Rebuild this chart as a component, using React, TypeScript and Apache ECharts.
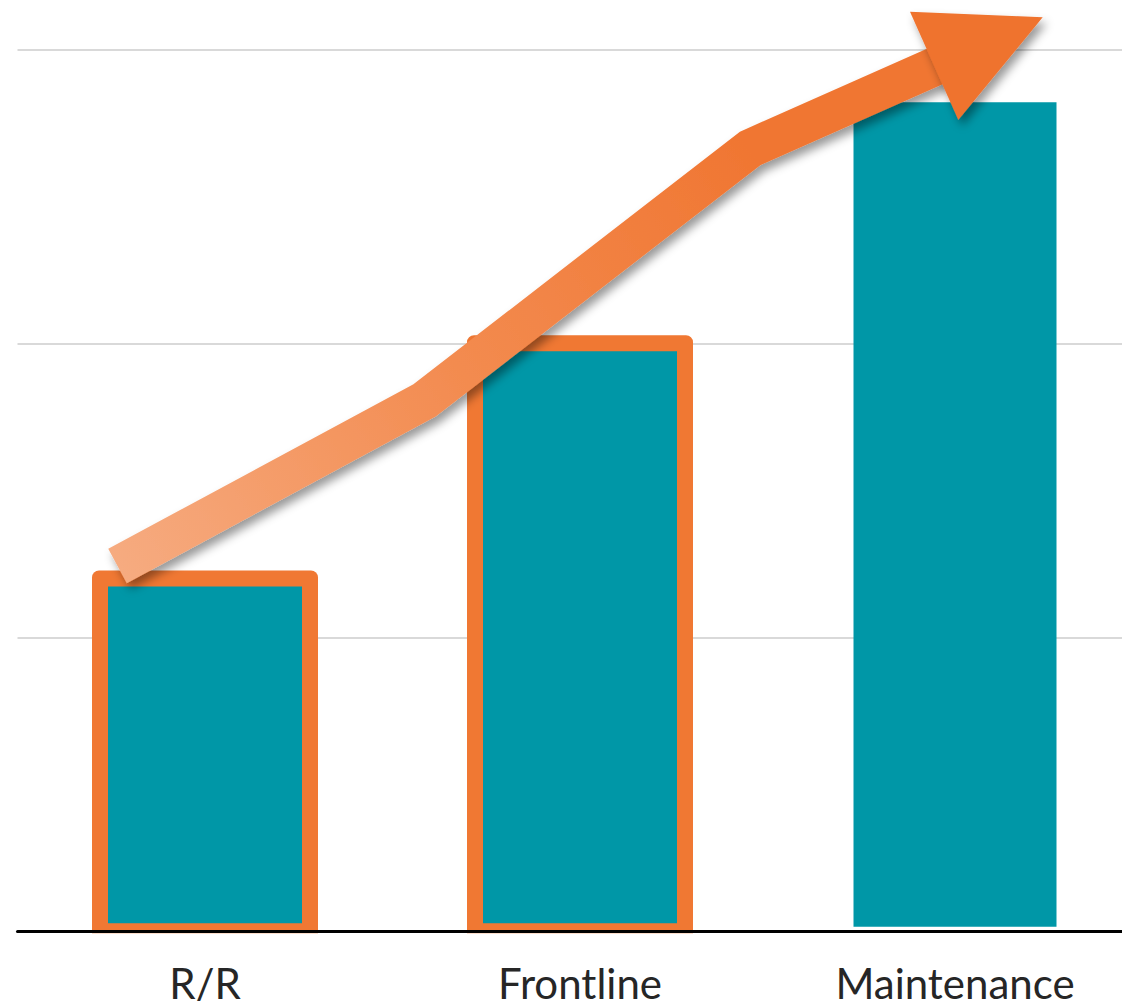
import React, { useEffect, useRef } from "react";
import * as echarts from "echarts";

// ---- data ----
const categories = ["R/R", "Frontline", "Maintenance"];
const values = [1.2, 2, 2.82];
const outlined = [1, 1, 0];
const yMin = 0;
const yMax = 3;
const yInterval = 1;
// trend arrow, in data units (x = category index, y = value)
const arrowShaftX = [-0.2333, 0.5867, 1.4533, 1.9852];
const arrowShaftY = [1.2425, 1.807, 2.6626, 2.9636];
const arrowHeadX = [1.88, 2.2339, 2.0088];
const arrowHeadY = [3.128, 3.1088, 2.7595];

// ---- styles ----
const TEAL = "#0097A7";
const ORANGE = "#F07833";
const OUTLINED_BAR_W = 210;
const PLAIN_BAR_W = 203;
const BORDER_W = 16;

export default function App() {
  const ref = useRef<HTMLDivElement>(null);
  useEffect(() => {
    if (!ref.current) return;
    const chart = echarts.init(ref.current, undefined, { renderer: "svg" });
    chart.setOption({
      animation: false,
      backgroundColor: "#ffffff",
      grid: {
        left: 17.5,
        top: 49.3,
        width: 1125,
        height: 882,
        containLabel: false,
        outerBoundsMode: "none",
      },
      xAxis: [
        {
          type: "category",
          data: categories,
          z: 10,
          axisLine: { lineStyle: { color: "#000000", width: 3 } },
          axisTick: { show: false },
          splitLine: { show: false },
          axisLabel: {
            interval: 0,
            fontFamily: "Lato",
            fontSize: 42,
            color: "#262626",
            margin: 31,
          },
        },
        { type: "value", min: -0.5, max: 2.5, show: false },
      ],
      yAxis: {
        type: "value",
        min: yMin,
        max: yMax,
        interval: yInterval,
        z: 0,
        axisLine: { show: false },
        axisTick: { show: false },
        axisLabel: { show: false },
        splitLine: { lineStyle: { color: "#D9D9D9", width: 2 } },
      },
      series: [
        {
          type: "custom",
          xAxisIndex: 0,
          yAxisIndex: 0,
          z: 2,
          data: values.map((v, i) => [i, v, outlined[i]]),
          encode: { x: 0, y: 1 },
          renderItem: (params: any, api: any) => {
            const cat = api.value(0);
            const v = api.value(1);
            const isOutlined = api.value(2) === 1;
            const top = api.coord([cat, v]);
            const base = api.coord([cat, 0]);
            const cx = top[0];
            if (isOutlined) {
              const w = OUTLINED_BAR_W;
              const h = BORDER_W / 2;
              return {
                type: "group",
                children: [
                  {
                    type: "rect",
                    shape: {
                      x: cx - w / 2 - h,
                      y: top[1] - h,
                      width: w + BORDER_W,
                      height: base[1] + 2 - (top[1] - h),
                      r: [7, 7, 0, 0],
                    },
                    style: { fill: ORANGE },
                  },
                  {
                    type: "rect",
                    shape: {
                      x: cx - w / 2 + h,
                      y: top[1] + h,
                      width: w - BORDER_W,
                      height: base[1] - h - (top[1] + h),
                    },
                    style: { fill: TEAL },
                  },
                ],
              };
            }
            const w = PLAIN_BAR_W;
            return {
              type: "rect",
              shape: {
                x: cx - w / 2,
                y: top[1],
                width: w,
                height: base[1] - 4.5 - top[1],
              },
              style: { fill: TEAL },
            };
          },
        },
      ],
    });

    const toPx = (x: number, y: number) =>
      chart.convertToPixel({ xAxisIndex: 1, yAxisIndex: 0 }, [x, y]) as number[];
    const shaft = arrowShaftX.map((x, i) => toPx(x, arrowShaftY[i]));
    const head = arrowHeadX.map((x, i) => toPx(x, arrowHeadY[i]));
    const shadow = {
      shadowBlur: 10,
      shadowOffsetX: 4,
      shadowOffsetY: 6,
      shadowColor: "rgba(0,0,0,0.4)",
    };
    chart.setOption({
      graphic: [
        {
          type: "polyline",
          z: 100,
          shape: { points: shaft },
          style: {
            fill: null,
            stroke: new echarts.graphic.LinearGradient(
              shaft[0][0],
              shaft[0][1],
              shaft[2][0],
              shaft[2][1],
              [
                { offset: 0, color: "#F6AB80" },
                { offset: 0.5, color: "#F38C51" },
                { offset: 1, color: "#F07632" },
              ],
              true
            ),
            lineWidth: 39,
            lineCap: "butt",
            lineJoin: "miter",
            ...shadow,
          },
        },
        {
          type: "polygon",
          z: 101,
          shape: { points: head },
          style: { fill: "#EF732F", ...shadow },
        },
      ],
    });
    return () => chart.dispose();
  }, []);
  return (
    <div
      ref={ref}
      style={{ position: "absolute", left: 0, top: 0, width: 1122, height: 1001 }}
    />
  );
}
